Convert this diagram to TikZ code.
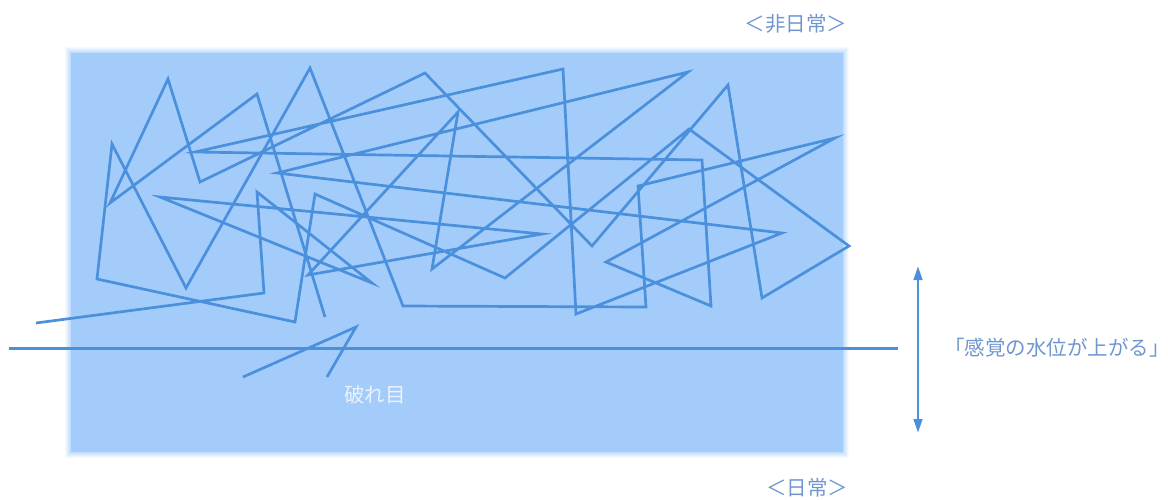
\documentclass[tikz,border=0pt]{standalone}
\usepackage{fontspec}
\newfontfamily\jpfont{Noto Sans CJK JP}
\usetikzlibrary{arrows.meta}
\definecolor{lineblue}{RGB}{74,144,220}
\definecolor{boxblue}{RGB}{164,204,250}
\definecolor{labelblue}{RGB}{112,150,208}
\definecolor{tearwhite}{RGB}{236,242,252}
\tikzset{
  scribble/.style={draw=lineblue, line width=2.7pt, line join=miter},
  waterline/.style={draw=lineblue, line width=2.7pt},
  label/.style={inner sep=0pt, font=\jpfont\fontsize{20.5pt}{20.5pt}\selectfont, text=labelblue},
  whitelabel/.style={inner sep=0pt, font=\jpfont\fontsize{20.5pt}{20.5pt}\selectfont, text=tearwhite},
  updown/.style={draw=lineblue, line width=2.7pt, {Triangle[length=14pt,width=8.5pt]}-{Triangle[length=14pt,width=8.5pt]}}
}
\begin{document}
\begin{tikzpicture}[x=1pt,y=-1pt]
\useasboundingbox (0,0) rectangle (1168,499);
% blurred blue field
\foreach \e/\o in {6/0.10,5/0.12,4/0.14,3/0.17,2/0.2,1/0.3}
  \fill[boxblue, opacity=\o] ({71-\e},{53-\e}) rectangle ({843+\e},{452+\e});
\fill[boxblue] (71,53) rectangle (843,452);
% scribble
\draw[scribble] (36,323) -- (264,293) -- (257,192) -- (372,283) -- (160,197)
  -- (542,234) -- (308,275) -- (458,112) -- (432,269) -- (688,72)
  -- (277,173) -- (782,233) -- (576,314) -- (563,69) -- (195,152)
  -- (702,160) -- (711,306) -- (606,262) -- (835,138) -- (638,186)
  -- (646,307) -- (403,306) -- (310,68) -- (186,288) -- (112,144)
  -- (97,279) -- (295,322) -- (315,194) -- (505,278) -- (689,129)
  -- (849,246) -- (762,298) -- (728,85) -- (592,246) -- (425,73)
  -- (200,182) -- (168,79) -- (110,203) -- (257,94) -- (325,317);
% water line
\coordinate (wl) at (9,348.5);
\coordinate (wr) at (898,348.5);
\draw[waterline] (wl) -- (wr);
% tear
\draw[scribble] (243,377) -- (356,327) -- (327,377);
\node[whitelabel] (tear) at (375,395) {破れ目};
% vertical arrow
\coordinate (atop) at (918,266);
\coordinate (abot) at (918,433);
\draw[updown] (atop) -- (abot);
% labels
\node[label] (rise) at (1057,348) {「感覚の水位が上がる」};
\node[label] (hi) at (796,24) {＜非日常＞};
\node[label] (lo) at (807,488) {＜日常＞};
\end{tikzpicture}
\end{document}
